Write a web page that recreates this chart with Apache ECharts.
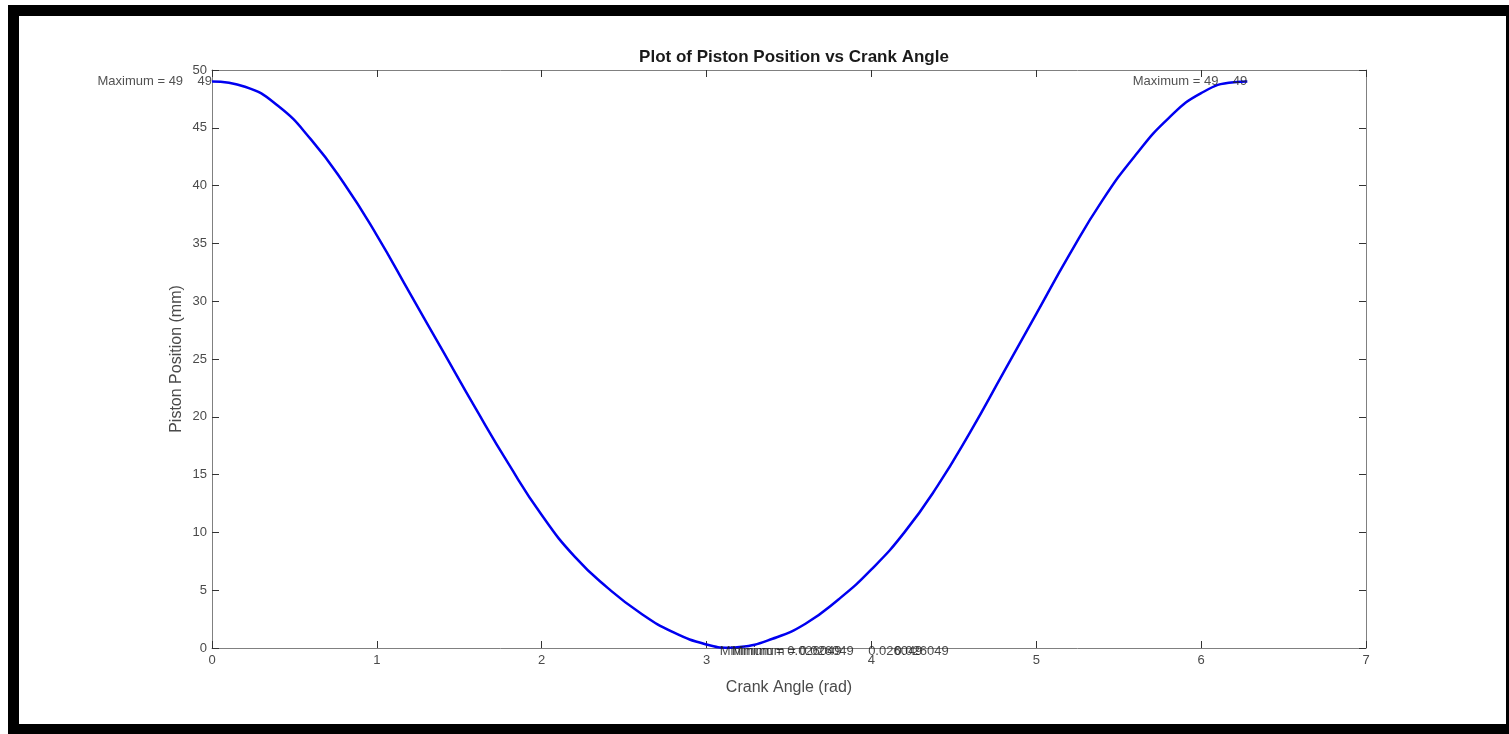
<!DOCTYPE html>
<html>
<head>
<meta charset="utf-8">
<script src="https://cdn.jsdelivr.net/npm/echarts@6/dist/echarts.min.js"></script>
<style>
  html, body { margin: 0; padding: 0; background: #ffffff; }
  #frame { position: absolute; left: 8px; top: 5px; width: 1501px; height: 729px; background: #000000; }
  #inner { position: absolute; left: 19px; top: 16px; width: 1487px; height: 708px; background: #ffffff; }
  #chart { position: absolute; left: 0; top: 0; width: 1509px; height: 734px; }
</style>
</head>
<body>
<div id="frame"></div>
<div id="inner"></div>
<div id="chart"></div>
<script>
// Crank angle (rad) and piston position (mm)
const crankAngle = [0, 0.2, 0.4, 0.6, 0.8, 1.0, 1.2, 1.4, 1.6, 1.8, 2.0, 2.2, 2.4, 2.6, 2.8, 3.0, 3.14, 3.2, 3.4, 3.6, 3.8, 4.0, 4.2, 4.4, 4.6, 4.8, 5.0, 5.2, 5.4, 5.6, 5.8, 6.0, 6.2, 6.28];
const pistonPos  = [49.0, 48.55, 46.9, 44.0, 40.2, 35.7, 30.7, 25.7, 20.7, 15.9, 11.5, 7.9, 5.2, 3.0, 1.35, 0.3, 0.03, 0.08, 0.8, 2.1, 4.2, 6.8, 10.0, 14.0, 18.7, 23.8, 28.9, 34.0, 38.7, 42.6, 45.8, 48.0, 48.95, 49.0];

// Axis ticks
const xTicks = [0, 1, 2, 3, 4, 5, 6, 7];
const yTicks = [0, 5, 10, 15, 20, 25, 30, 35, 40, 45, 50];

// Annotations (anchor in data coordinates)
const annotX     = [0, 6.28, 3.08, 3.154, 3.98, 4.14];
const annotY     = [49, 49, 0, 0, 0, 0];
const annotText  = ['Maximum = 49    49', 'Maximum = 49    49', 'Minimum = 0.026049', 'Minimum = 0.026049', '0.026049', '0.026049'];
const annotSide  = ['left', 'left', 'right', 'right', 'right', 'right'];

const chart = echarts.init(document.getElementById('chart'));
const FONT = '"Liberation Sans", Arial, Helvetica, sans-serif';
const lineCol = '#808080';
const tickCol = '#333333';
const labCol = '#4a4a4a';

const lineData = crankAngle.map((a, i) => [a, pistonPos[i]]);
const annotData = annotX.map((x, i) => ({
  value: [x, annotY[i]],
  label: {
    show: true,
    formatter: annotText[i],
    position: annotSide[i],
    distance: 0,
    offset: annotY[i] === 0 ? [0, 3] : [0, 0],
    color: annotY[i] === 0 ? '#1a1a1a' : '#262626',
    fontSize: 13,
    fontFamily: FONT
  }
}));

const baseAxis = {
  min: 0,
  axisLine: { show: true, onZero: false, lineStyle: { color: lineCol, width: 1 } },
  axisTick: { show: true, inside: true, length: 7, lineStyle: { color: tickCol, width: 1 } },
  splitLine: { show: false }
};

chart.setOption({
  animation: false,
  backgroundColor: 'transparent',
  title: {
    text: 'Plot of Piston Position vs Crank Angle',
    left: 789,
    top: 44,
    textAlign: 'center',
    textStyle: { fontSize: 17, fontWeight: 'bold', color: '#1a1a1a', fontFamily: FONT }
  },
  grid: { left: 212, right: 143, top: 70, bottom: 86, containLabel: false },
  xAxis: [
    Object.assign({}, baseAxis, {
      type: 'value', max: xTicks[xTicks.length - 1], interval: xTicks[1] - xTicks[0], position: 'bottom',
      name: 'Crank Angle (rad)', nameLocation: 'middle', nameGap: 32, nameMoveOverlap: false,
      nameTextStyle: { fontSize: 16, color: labCol, fontFamily: FONT },
      axisLabel: { show: true, color: labCol, fontSize: 13, margin: 6, fontFamily: FONT }
    }),
    Object.assign({}, baseAxis, {
      type: 'value', max: xTicks[xTicks.length - 1], interval: xTicks[1] - xTicks[0], position: 'top',
      axisLabel: { show: false }
    })
  ],
  yAxis: [
    Object.assign({}, baseAxis, {
      type: 'value', max: yTicks[yTicks.length - 1], interval: yTicks[1] - yTicks[0], position: 'left',
      name: 'Piston Position (mm)', nameLocation: 'middle', nameGap: 27, nameMoveOverlap: false,
      nameTextStyle: { fontSize: 16, color: labCol, fontFamily: FONT },
      axisLabel: { show: true, color: labCol, fontSize: 13, margin: 5, fontFamily: FONT }
    }),
    Object.assign({}, baseAxis, {
      type: 'value', max: yTicks[yTicks.length - 1], interval: yTicks[1] - yTicks[0], position: 'right',
      axisLabel: { show: false }
    })
  ],
  series: [
    {
      type: 'line',
      xAxisIndex: 0, yAxisIndex: 0,
      data: lineData,
      showSymbol: false,
      smooth: 0.5,
      lineStyle: { color: '#0000f0', width: 2.5 },
      z: 3
    },
    {
      type: 'scatter',
      xAxisIndex: 0, yAxisIndex: 0,
      data: annotData,
      symbolSize: 0,
      silent: true,
      z: 4
    }
  ]
});
</script>
</body>
</html>
